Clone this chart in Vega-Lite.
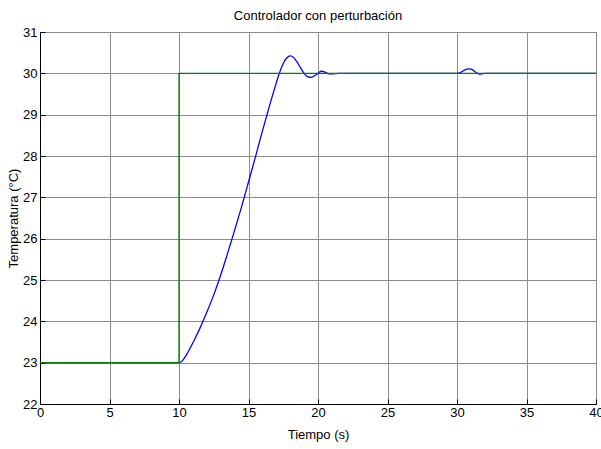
{
  "$schema": "https://vega.github.io/schema/vega-lite/v6.json",
  "width": 556,
  "height": 372,
  "autosize": {"type": "none"},
  "padding": {"left": 40, "top": 32, "right": 5, "bottom": 45},
  "background": "white",
  "title": {
    "text": "Controlador con perturbación",
    "font": "Liberation Sans Narrow, Liberation Sans, Arial",
    "fontSize": 13,
    "fontWeight": "normal",
    "color": "black",
    "anchor": "middle",
    "offset": 3
  },
  "config": {
    "view": {"stroke": "black", "strokeWidth": 1},
    "axis": {
      "labelFont": "Liberation Sans Narrow, Liberation Sans, Arial",
      "titleFont": "Liberation Sans Narrow, Liberation Sans, Arial",
      "labelFontSize": 13,
      "titleFontSize": 13,
      "titleFontWeight": "normal",
      "labelColor": "black",
      "titleColor": "black",
      "domainColor": "black",
      "domainWidth": 1,
      "tickColor": "black",
      "tickSize": -5,
      "gridColor": "#8c8c8c",
      "gridWidth": 1,
      "gridOpacity": 1
    }
  },
  "data": {
    "values": [
      {"s": "y", "i": 0, "t": 0, "T": 23},
      {"s": "y", "i": 1, "t": 10, "T": 23},
      {"s": "y", "i": 2, "t": 10.25, "T": 23.05},
      {"s": "y", "i": 3, "t": 10.5, "T": 23.17},
      {"s": "y", "i": 4, "t": 10.75, "T": 23.32},
      {"s": "y", "i": 5, "t": 11.0, "T": 23.48},
      {"s": "y", "i": 6, "t": 11.25, "T": 23.65},
      {"s": "y", "i": 7, "t": 11.5, "T": 23.83},
      {"s": "y", "i": 8, "t": 11.75, "T": 24.02},
      {"s": "y", "i": 9, "t": 12.0, "T": 24.22},
      {"s": "y", "i": 10, "t": 12.5, "T": 24.64},
      {"s": "y", "i": 11, "t": 13.0, "T": 25.12},
      {"s": "y", "i": 12, "t": 13.5, "T": 25.65},
      {"s": "y", "i": 13, "t": 14.0, "T": 26.2},
      {"s": "y", "i": 14, "t": 14.5, "T": 26.77},
      {"s": "y", "i": 15, "t": 15.0, "T": 27.37},
      {"s": "y", "i": 16, "t": 15.5, "T": 27.98},
      {"s": "y", "i": 17, "t": 16.0, "T": 28.6},
      {"s": "y", "i": 18, "t": 16.5, "T": 29.2},
      {"s": "y", "i": 19, "t": 17.0, "T": 29.77},
      {"s": "y", "i": 20, "t": 17.25, "T": 30.03},
      {"s": "y", "i": 21, "t": 17.5, "T": 30.24},
      {"s": "y", "i": 22, "t": 17.75, "T": 30.37},
      {"s": "y", "i": 23, "t": 18.0, "T": 30.42},
      {"s": "y", "i": 24, "t": 18.25, "T": 30.38},
      {"s": "y", "i": 25, "t": 18.5, "T": 30.27},
      {"s": "y", "i": 26, "t": 18.75, "T": 30.13},
      {"s": "y", "i": 27, "t": 19.0, "T": 30.0},
      {"s": "y", "i": 28, "t": 19.25, "T": 29.92},
      {"s": "y", "i": 29, "t": 19.5, "T": 29.9},
      {"s": "y", "i": 30, "t": 19.75, "T": 29.94},
      {"s": "y", "i": 31, "t": 20.0, "T": 30.0},
      {"s": "y", "i": 32, "t": 20.25, "T": 30.05},
      {"s": "y", "i": 33, "t": 20.5, "T": 30.03},
      {"s": "y", "i": 34, "t": 20.75, "T": 29.99},
      {"s": "y", "i": 35, "t": 21.0, "T": 29.99},
      {"s": "y", "i": 36, "t": 21.5, "T": 30},
      {"s": "y", "i": 37, "t": 30.0, "T": 30},
      {"s": "y", "i": 38, "t": 30.2, "T": 30.01},
      {"s": "y", "i": 39, "t": 30.45, "T": 30.06},
      {"s": "y", "i": 40, "t": 30.7, "T": 30.1},
      {"s": "y", "i": 41, "t": 30.9, "T": 30.11},
      {"s": "y", "i": 42, "t": 31.1, "T": 30.09},
      {"s": "y", "i": 43, "t": 31.3, "T": 30.04},
      {"s": "y", "i": 44, "t": 31.5, "T": 30.0},
      {"s": "y", "i": 45, "t": 31.65, "T": 29.98},
      {"s": "y", "i": 46, "t": 31.8, "T": 29.99},
      {"s": "y", "i": 47, "t": 32.0, "T": 30},
      {"s": "y", "i": 48, "t": 40, "T": 30},
      {"s": "r", "i": 0, "t": 0, "T": 23},
      {"s": "r", "i": 1, "t": 10, "T": 23},
      {"s": "r", "i": 2, "t": 10, "T": 30},
      {"s": "r", "i": 3, "t": 40, "T": 30}
    ]
  },
  "encoding": {
    "x": {
      "field": "t", "type": "quantitative",
      "scale": {"domain": [0, 40], "nice": false, "zero": false},
      "axis": {"values": [0, 5, 10, 15, 20, 25, 30, 35, 40], "title": "Tiempo (s)", "labelPadding": 7, "titlePadding": 9, "labelFlush": false}
    },
    "y": {
      "field": "T", "type": "quantitative",
      "scale": {"domain": [22, 31], "nice": false, "zero": false},
      "axis": {"values": [22, 23, 24, 25, 26, 27, 28, 29, 30, 31], "title": "Temperatura (°C)", "labelPadding": 8, "titlePadding": 2, "labelFlush": false}
    },
    "order": {"field": "i", "type": "quantitative"}
  },
  "layer": [
    {
      "transform": [{"filter": "datum.s == 'y'"}],
      "mark": {"type": "line", "color": "#0000ff", "strokeWidth": 1.3, "interpolate": "monotone"}
    },
    {
      "transform": [{"filter": "datum.s == 'r'"}],
      "mark": {"type": "line", "color": "#008000", "strokeWidth": 1.3}
    }
  ]
}
